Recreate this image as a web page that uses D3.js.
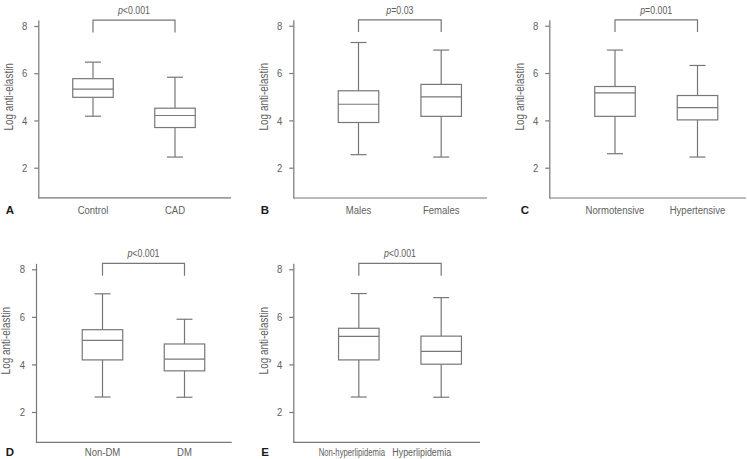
<!doctype html>
<html lang="en">
  <head>
    <meta charset="UTF-8" />
    <title>Log anti-elastin box plots</title>
    <script src="https://d3js.org/d3.v7.min.js"></script>
    <style>
      body {
        margin: 0;
        background: #fff;
      }
      text {
        font-family: 'Liberation Sans', Arial, sans-serif;
        fill: #606060;
      }
      .letter {
        font-weight: bold;
        fill: #1a1a1a;
      }
    </style>
  </head>
  <body>
    <svg width="747" height="459"></svg>
    <script>
      // values: [min, q1, median, q3, max]
      const panelLetters = ['A', 'B', 'C', 'D', 'E'];
      const groupNames = [
        ['Control', 'CAD'],
        ['Males', 'Females'],
        ['Normotensive', 'Hypertensive'],
        ['Non-DM', 'DM'],
        ['Non-hyperlipidemia', 'Hyperlipidemia'],
      ];
      const boxStats = [
        [[4.18, 4.98, 5.33, 5.77, 6.47], [2.45, 3.7, 4.21, 4.52, 5.83]],
        [[2.55, 3.91, 4.68, 5.25, 7.29], [2.45, 4.17, 4.99, 5.52, 6.97]],
        [[2.59, 4.17, 5.16, 5.43, 6.97], [2.45, 4.02, 4.54, 5.05, 6.32]],
        [[2.63, 4.19, 5.01, 5.46, 6.97], [2.62, 3.73, 4.22, 4.86, 5.9]],
        [[2.63, 4.19, 5.18, 5.52, 6.98], [2.62, 4.01, 4.55, 5.19, 6.81]],
      ];
      const pLabels = [
        ['p', '<0.001'],
        ['p', '=0.03'],
        ['p', '=0.001'],
        ['p', '<0.001'],
        ['p', '<0.001'],
      ];
      const yTicks = [2, 4, 6, 8];
      const yTitle = 'Log anti-elastin';

      // panel placement (pixels); labelShift / labelSqueeze tweak the crowded panel E
      const layout = [
        { axisX: 38.3, xEnd: 231, c1: 93, c2: 175, y8: 26, y2: 167.7, letterX: 10, labelY: 214 },
        { axisX: 293.3, xEnd: 487, c1: 358.5, c2: 441.2, y8: 25.7, y2: 167.7, letterX: 265, labelY: 214 },
        { axisX: 549.3, xEnd: 746, c1: 615, c2: 697.5, y8: 25.7, y2: 167.7, letterX: 525, labelY: 214 },
        { axisX: 36, xEnd: 231.7, c1: 102.5, c2: 184.5, y8: 269.3, y2: 412, letterX: 10, labelY: 455.5 },
        {
          axisX: 293.3, xEnd: 480, c1: 358.8, c2: 441.2, y8: 269.3, y2: 412, letterX: 265, labelY: 455.5,
          labelShift: [-7, -19.5], labelSqueeze: [0.67, 0.775],
        },
      ];

      const lineColor = '#777';
      const boxWidth = 40.5;
      const capWidth = 16;
      const yLow = 0.72;
      const yHigh = 8.25;
      const narrow = 0.83; // no condensed font installed, squeeze glyphs instead

      const svg = d3.select('svg');

      // horizontal squeeze around the text anchor point
      function condense(sel, factor) {
        sel.each(function (d, k) {
          const f = typeof factor === 'function' ? factor(d, k) : factor || narrow;
          const t = d3.select(this);
          const tx = +t.attr('x') || 0;
          const ty = +t.attr('y') || 0;
          const prev = t.attr('transform') || '';
          t.attr('x', 0)
            .attr('y', 0)
            .attr('transform', `${prev} translate(${tx},${ty}) scale(${f},1)`);
        });
      }

      panelLetters.forEach((letter, i) => {
        const L = layout[i];
        const unit = (L.y2 - L.y8) / 6;
        const y = d3
          .scaleLinear()
          .domain([yLow, yHigh])
          .range([L.y8 + (8 - yLow) * unit, L.y8 - (yHigh - 8) * unit]);
        const x = d3
          .scalePoint()
          .domain(groupNames[i])
          .range([L.c1, L.c2]);

        const g = svg.append('g');
        const bottom = y(yLow);

        // y axis
        const ax = g
          .append('g')
          .attr('transform', `translate(${L.axisX},0)`)
          .call(
            d3
              .axisLeft(y)
              .tickValues(yTicks)
              .tickSize(4)
              .tickSizeOuter(0)
              .tickPadding(7),
          );
        ax.select('.domain').attr('stroke', lineColor).attr('stroke-width', 1.2);
        ax.selectAll('.tick line').attr('stroke', lineColor).attr('stroke-width', 1.2);
        ax.selectAll('.tick text')
          .attr('fill', '#606060')
          .style('font-size', '11.5px')
          .style('font-family', "'Liberation Sans', Arial, sans-serif")
          .call(condense);

        // x axis line
        g.append('line')
          .attr('x1', L.axisX)
          .attr('x2', L.xEnd)
          .attr('y1', bottom)
          .attr('y2', bottom)
          .attr('stroke', lineColor)
          .attr('stroke-width', 1.2);

        // y title
        g.append('text')
          .attr('transform', `translate(${L.axisX - 30},${y(5)}) rotate(-90)`)
          .attr('text-anchor', 'middle')
          .attr('dy', '0.35em')
          .style('font-size', '12px')
          .text(yTitle)
          .call(condense);

        // boxes
        const box = g
          .selectAll('.box')
          .data(groupNames[i].map((n, k) => ({ name: n, s: boxStats[i][k], k })))
          .enter()
          .append('g')
          .attr('class', 'box');

        box.append('line')
          .attr('x1', (d) => x(d.name))
          .attr('x2', (d) => x(d.name))
          .attr('y1', (d) => y(d.s[0]))
          .attr('y2', (d) => y(d.s[4]))
          .attr('stroke', lineColor)
          .attr('stroke-width', 1.2);

        box.selectAll('.cap')
          .data((d) => [d.s[0], d.s[4]].map((v) => ({ name: d.name, v })))
          .enter()
          .append('line')
          .attr('x1', (d) => x(d.name) - capWidth / 2)
          .attr('x2', (d) => x(d.name) + capWidth / 2)
          .attr('y1', (d) => y(d.v))
          .attr('y2', (d) => y(d.v))
          .attr('stroke', lineColor)
          .attr('stroke-width', 1.2);

        box.append('rect')
          .attr('x', (d) => x(d.name) - boxWidth / 2)
          .attr('width', boxWidth)
          .attr('y', (d) => y(d.s[3]))
          .attr('height', (d) => y(d.s[1]) - y(d.s[3]))
          .attr('fill', '#fff')
          .attr('stroke', lineColor)
          .attr('stroke-width', 1.2);

        box.append('line')
          .attr('x1', (d) => x(d.name) - boxWidth / 2)
          .attr('x2', (d) => x(d.name) + boxWidth / 2)
          .attr('y1', (d) => y(d.s[2]))
          .attr('y2', (d) => y(d.s[2]))
          .attr('stroke', lineColor)
          .attr('stroke-width', 1.2);

        // category labels
        box.append('text')
          .attr('x', (d) => x(d.name) + (L.labelShift ? L.labelShift[d.k] : 0))
          .attr('y', L.labelY)
          .attr('text-anchor', 'middle')
          .style('font-size', '11.5px')
          .text((d) => d.name)
          .call(condense, (d) => (L.labelSqueeze ? L.labelSqueeze[d.k] : narrow));

        // significance bracket
        const [n1, n2] = groupNames[i];
        g.append('path')
          .attr(
            'd',
            `M${x(n1)},${y(7.73)}V${y(8.25)}H${x(n2)}V${y(7.73)}`,
          )
          .attr('fill', 'none')
          .attr('stroke', lineColor)
          .attr('stroke-width', 1.2);

        const pt = g
          .append('text')
          .attr('x', (x(n1) + x(n2)) / 2)
          .attr('y', y(8.25) - 6)
          .attr('text-anchor', 'middle')
          .style('font-size', '11px');
        pt.append('tspan').style('font-style', 'italic').text(pLabels[i][0]);
        pt.append('tspan').text(pLabels[i][1]);
        pt.call(condense, 0.8);

        // panel letter
        g.append('text')
          .attr('class', 'letter')
          .attr('x', L.letterX)
          .attr('y', L.labelY)
          .attr('text-anchor', 'middle')
          .style('font-size', '11.5px')
          .text(letter);
      });
    </script>
  </body>
</html>
